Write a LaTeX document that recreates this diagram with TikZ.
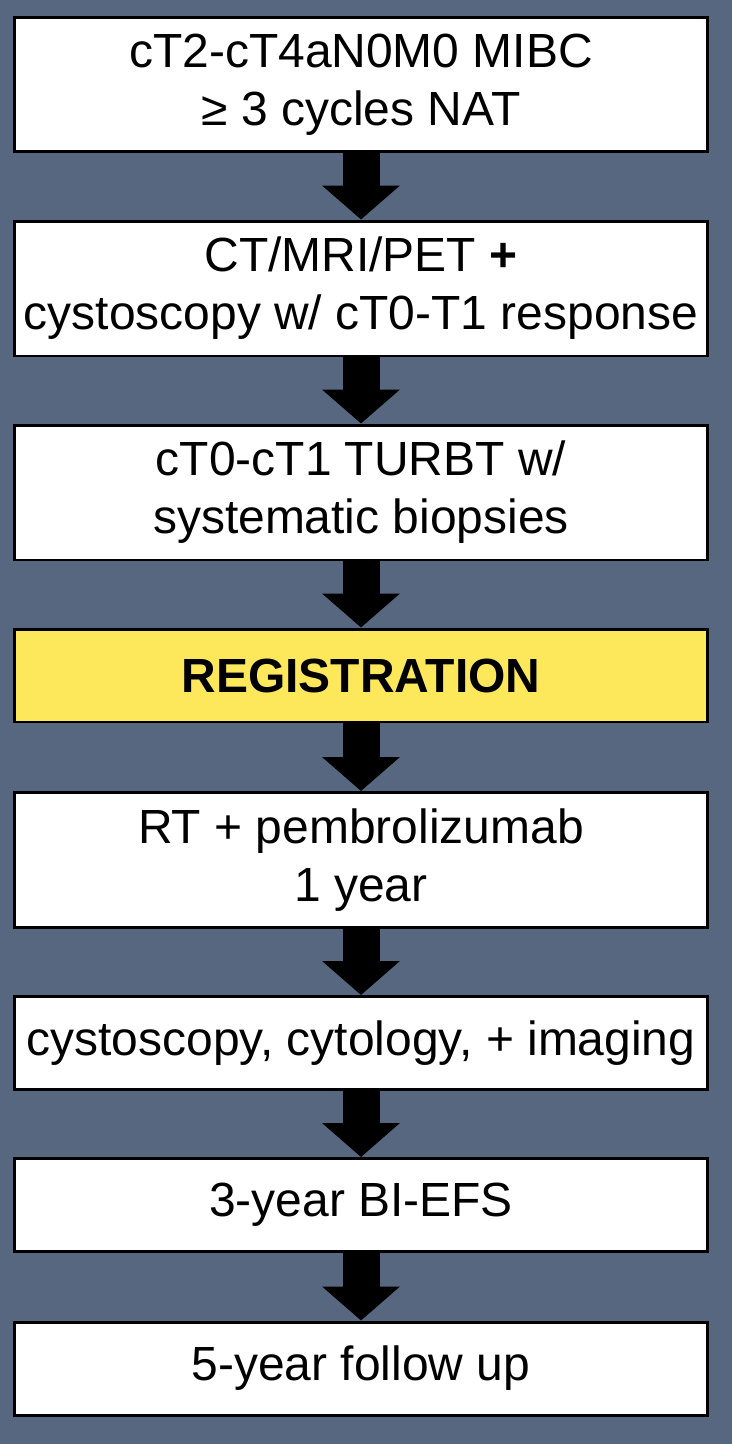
\documentclass[tikz,border=0pt]{standalone}
\usepackage{fontspec}
\setmainfont{Liberation Sans}
\usepackage{tikz}
\usetikzlibrary{arrows.meta, positioning}

\definecolor{slatebg}{RGB}{86,103,127}
\definecolor{regyellow}{RGB}{252,232,90}

\begin{document}
\begin{tikzpicture}[
        x=0.02cm, y=-0.02cm,
        font=\fontsize{27.3}{33}\selectfont,
        flowbox/.style={draw, line width=1.7pt, fill=white, minimum width=13.88cm, minimum height=2.7cm, align=center, inner sep=0pt},
        shortbox/.style={flowbox, minimum height=1.86cm},
        regbox/.style={shortbox, fill=regyellow, font=\fontsize{27.3}{33}\selectfont\bfseries},
        arr/.style={-{Triangle[width=1.52cm, length=0.68cm]}, line width=0.74cm, color=black}
      ]
        \useasboundingbox (0,0) rectangle (732,1444);
        \fill[slatebg] (0,0) rectangle (732,1444);

        \node[flowbox] (mibc) at (361,84.5) {cT2-cT4aN0M0 MIBC\\≥ 3 cycles NAT};
        \node[flowbox] (imaging) at (361,288.5) {CT/MRI/PET \textbf{+}\\cystoscopy w/ cT0-T1 response};
        \node[flowbox] (turbt) at (361,492.5) {cT0-cT1 TURBT w/\\systematic biopsies};
        \node[regbox] (reg) at (361,675.5) {REGISTRATION};
        \node[flowbox] (rt) at (361,860) {RT + pembrolizumab\\1 year};
        \node[shortbox] (cysto) at (361,1043) {cystoscopy, cytology, + imaging};
        \node[shortbox] (efs) at (361,1205) {3-year BI-EFS};
        \node[shortbox] (follow) at (361,1368.5) {5-year follow up};

        \draw[arr] (mibc) -- (imaging);
        \draw[arr] (imaging) -- (turbt);
        \draw[arr] (turbt) -- (reg);
        \draw[arr] (reg) -- (rt);
        \draw[arr] (rt) -- (cysto);
        \draw[arr] (cysto) -- (efs);
        \draw[arr] (efs) -- (follow);
      \end{tikzpicture}
\end{document}
